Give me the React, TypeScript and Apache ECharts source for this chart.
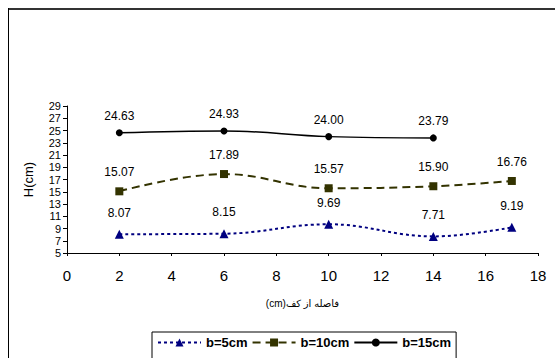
import React, { useEffect, useRef } from "react";
import * as echarts from "echarts";

// Distance from the bottom (cm) and measured water depth H (cm) for each b
const xPositions5 = [2, 6, 10, 14, 17];
const values5 = [8.07, 8.15, 9.69, 7.71, 9.19];
const xPositions10 = [2, 6, 10, 14, 17];
const values10 = [15.07, 17.89, 15.57, 15.9, 16.76];
const xPositions15 = [2, 6, 10, 14];
const values15 = [24.63, 24.93, 24.0, 23.79];

const seriesNames = ["b=5cm", "b=10cm", "b=15cm"];
const yTicks = [5, 7, 9, 11, 13, 15, 17, 19, 21, 23, 25, 27, 29];
// right-to-left embedding so "(cm)" sits at the left end of the Persian title
const xAxisTitle = "\u202Bفاصله از کف(cm)\u202C";
const yAxisTitle = "H(cm)";

const FONT = "'Liberation Sans', Arial, 'DejaVu Sans', sans-serif";

const pairs = (xs: number[], ys: number[]) => xs.map((x, i) => [x, ys[i]]);

export default function App() {
  const ref = useRef<HTMLDivElement>(null);

  useEffect(() => {
    if (!ref.current) return;
    const chart = echarts.init(ref.current, null, { renderer: "svg" });

    const label = (distance: number) => ({
      show: true,
      position: "top" as const,
      distance,
      color: "#000",
      fontSize: 12,
      fontFamily: FONT,
      formatter: (p: any) => Number(p.value[1]).toFixed(2),
    });

    chart.setOption({
      animation: false,
      backgroundColor: "#fff",
      textStyle: { fontFamily: FONT },
      graphic: [
        {
          type: "line",
          shape: { x1: 8, y1: 9, x2: 555, y2: 9 },
          style: { stroke: "#333", lineWidth: 2 },
        },
        {
          type: "line",
          shape: { x1: 8.5, y1: 8, x2: 8.5, y2: 358 },
          style: { stroke: "#000", lineWidth: 1 },
        },
      ],
      grid: { left: 67, right: 17, top: 106, bottom: 105, containLabel: false },
      legend: {
        data: seriesNames,
        left: 152,
        top: 332,
        padding: [4, 5, 14, 5],
        itemWidth: 43,
        itemHeight: 10,
        itemGap: 4,
        borderColor: "#000",
        borderWidth: 1,
        borderRadius: 0,
        textStyle: { color: "#000", fontSize: 13, fontWeight: "bold", fontFamily: FONT },
      },
      xAxis: {
        type: "value",
        min: 0,
        max: 18,
        interval: 2,
        name: xAxisTitle,
        nameLocation: "middle",
        nameGap: 45,
        nameTextStyle: { color: "#000", fontSize: 10, fontFamily: FONT },
        axisLine: { show: true, onZero: false, lineStyle: { color: "#000", width: 1 } },
        axisTick: { show: true, length: 3, lineStyle: { color: "#000" } },
        axisLabel: { color: "#000", fontSize: 15, margin: 15, fontFamily: FONT },
        splitLine: { show: false },
      },
      yAxis: {
        type: "value",
        min: 5,
        max: 29,
        name: yAxisTitle,
        nameLocation: "middle",
        nameRotate: 90,
        nameGap: 32,
        nameTextStyle: { color: "#000", fontSize: 13, fontFamily: FONT },
        axisLine: { show: true, lineStyle: { color: "#000", width: 1 } },
        axisTick: { show: true, length: 4, customValues: yTicks, lineStyle: { color: "#000" } },
        axisLabel: {
          color: "#000",
          fontSize: 11,
          lineHeight: 11,
          margin: 6,
          customValues: yTicks,
          fontFamily: FONT,
        },
        splitLine: { show: false },
      },
      series: [
        {
          name: seriesNames[0],
          type: "line",
          smooth: 0.4,
          data: pairs(xPositions5, values5),
          symbol: "triangle",
          symbolSize: 9,
          itemStyle: { color: "#000080" },
          lineStyle: { color: "#000080", width: 2, type: [3, 3] },
          label: label(11),
        },
        {
          name: seriesNames[1],
          type: "line",
          smooth: 0.4,
          data: pairs(xPositions10, values10),
          symbol: "rect",
          symbolSize: 8,
          itemStyle: { color: "#333300" },
          lineStyle: { color: "#333300", width: 2, type: [8, 5] },
          label: label(9),
        },
        {
          name: seriesNames[2],
          type: "line",
          smooth: 0.4,
          data: pairs(xPositions15, values15),
          symbol: "circle",
          symbolSize: 7,
          itemStyle: { color: "#000" },
          lineStyle: { color: "#000", width: 1.5 },
          label: label(7),
        },
      ],
    });

    return () => chart.dispose();
  }, []);

  return (
    <div
      ref={ref}
      style={{ position: "absolute", left: 0, top: 0, width: 555, height: 358 }}
    />
  );
}
